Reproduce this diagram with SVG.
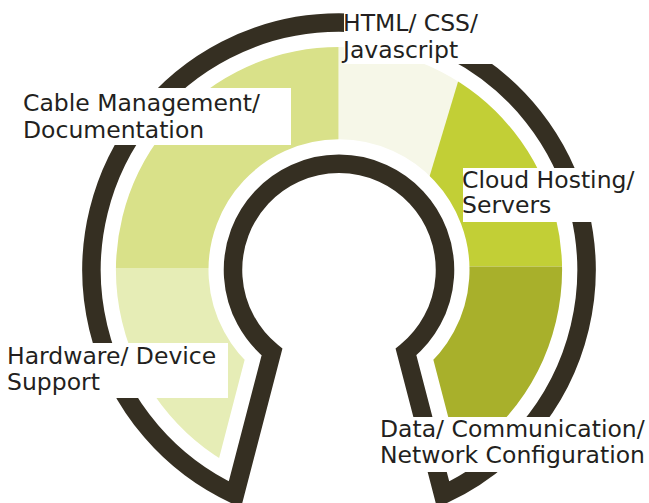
<svg xmlns="http://www.w3.org/2000/svg" width="649" height="503" viewBox="0 0 649 503">
  <style>
    .lbl { font-family: "DejaVu Sans", "Liberation Sans", sans-serif; font-size: 23.5px; fill: #231f20; }
    .box { fill: #ffffff; }
    .gap { fill: none; stroke: #ffffff; stroke-width: 49; stroke-linejoin: miter; stroke-miterlimit: 20; }
    .ring { fill: none; stroke: #352f22; stroke-width: 18.5; stroke-linejoin: miter; stroke-miterlimit: 20; }
  </style>
  <defs>
    <clipPath id="annulus">
      <path clip-rule="evenodd" d="M99,270 a240,240 0 1,0 480,0 a240,240 0 1,0 -480,0 Z M219,270 a120,120 0 1,0 240,0 a120,120 0 1,0 -240,0 Z"/>
    </clipPath>
    <path id="outline" d="M234.9,494.6 L272,352 A106,106 0 1,1 406,352 L443.1,494.6 A247.5,247.5 0 1,0 234.9,494.6 Z"/>
  </defs>
  <rect width="649" height="503" fill="#ffffff"/>

  <g id="segments" clip-path="url(#annulus)">
    <path id="seg-cloud" fill="#c2cf36" d="M339,0 L649,0 L649,266.5 L339,266.5 Z"/>
    <path id="seg-html" fill="#f6f7e8" d="M338.5,0 L482.6,0 L402,268 L338.5,268 Z"/>
    <path id="seg-cable" fill="#d9e189" d="M60,0 L338.5,0 L338.5,268 L60,268 Z"/>
    <path id="seg-data" fill="#a8b02b" d="M383.6,266.5 L649,266.5 L649,520 L449.7,520 Z"/>
    <path id="seg-hardware" fill="#e6edb6" d="M293.8,268 L0,268 L0,520 L228.3,520 Z"/>
  </g>

  <g id="connectors">
    <use href="#outline" class="gap"/>
    <use href="#outline" class="ring"/>
  </g>

  <g id="node-html">
    <rect class="box" x="344" y="4" width="148" height="60"/>
    <text class="lbl" x="343" y="31">HTML/ CSS/</text>
    <text class="lbl" x="343" y="57.5">Javascript</text>
  </g>
  <g id="node-cable">
    <rect class="box" x="18" y="88" width="273" height="57"/>
    <text class="lbl" x="23" y="111">Cable Management/</text>
    <text class="lbl" x="23" y="137.7">Documentation</text>
  </g>
  <g id="node-cloud">
    <rect class="box" x="463" y="168" width="180" height="54"/>
    <text class="lbl" x="462" y="187.7">Cloud Hosting/</text>
    <text class="lbl" x="462" y="213.3">Servers</text>
  </g>
  <g id="node-hardware">
    <rect class="box" x="0" y="343" width="228" height="55"/>
    <text class="lbl" x="7" y="364">Hardware/ Device</text>
    <text class="lbl" x="7" y="390">Support</text>
  </g>
  <g id="node-data">
    <rect class="box" x="380" y="417" width="269" height="55"/>
    <text class="lbl" x="380" y="436.7">Data/ Communication/</text>
    <text class="lbl" x="380" y="463.3">Network Configuration</text>
  </g>
</svg>
